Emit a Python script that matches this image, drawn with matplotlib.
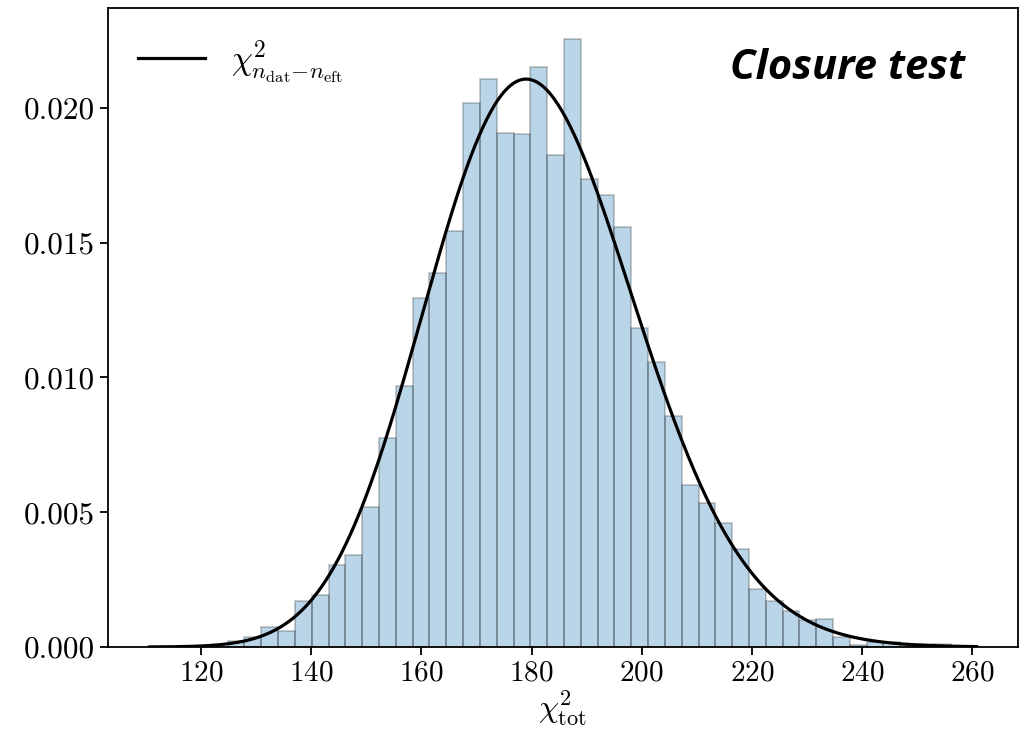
import math
import numpy as np
import matplotlib
matplotlib.use("Agg")
import matplotlib.pyplot as plt

# histogram of chi2_tot over replicas (density)
bin_lo = 124.8
bin_hi = 256.1
density = [0.00022, 0.00039, 0.00074, 0.00058, 0.00171, 0.00194, 0.00306,
           0.00343, 0.00521, 0.00774, 0.00968, 0.01295, 0.01386, 0.01542,
           0.02019, 0.02107, 0.01907, 0.01901, 0.02151, 0.01825, 0.02257,
           0.01736, 0.01677, 0.01557, 0.01185, 0.01059, 0.00857, 0.00602,
           0.00536, 0.00460, 0.00364, 0.00215, 0.00172, 0.00134, 0.00099,
           0.00104, 0.00036, 0.00007, 0.00020, 0.00020, 0.00013, 0.00013,
           0.00013]

# chi2 with n_dat - n_eft degrees of freedom
dof = 181
curve_lo = 110.6
curve_hi = 260.8

plt.rcParams['font.family'] = 'serif'
plt.rcParams['font.serif'] = ['cmr10', 'DejaVu Serif']
plt.rcParams['mathtext.fontset'] = 'cm'
plt.rcParams['axes.formatter.use_mathtext'] = True

fig = plt.figure(figsize=(10.31, 7.35), dpi=100)
ax = fig.add_axes([0.1048, 0.1197, 0.8826, 0.8693])

edges = np.linspace(bin_lo, bin_hi, len(density) + 1)
ax.bar(edges[:-1], density, width=np.diff(edges), align='edge',
       facecolor=(0.122, 0.467, 0.706, 0.3), edgecolor=(0, 0, 0, 0.22),
       linewidth=1.3)

x = np.linspace(curve_lo, curve_hi, 400)
k = dof / 2.0
logpdf = (k - 1) * np.log(x) - x / 2 - k * math.log(2) - math.lgamma(k)
ax.plot(x, np.exp(logpdf), color='black', lw=2.3,
        label=r'$\chi^2_{n_{\rm dat}{-}n_{\rm eft}}$')

ax.set_ylim(bottom=0)
ax.set_xticks([120, 140, 160, 180, 200, 220, 240, 260])
ax.set_yticks([0.0, 0.005, 0.010, 0.015, 0.020])
ax.yaxis.set_major_formatter(matplotlib.ticker.FormatStrFormatter('%.3f'))
ax.tick_params(labelsize=21, width=1.3, length=6)
ax.tick_params(axis='y', labelsize=22.5)
for s in ax.spines.values():
    s.set_linewidth(1.3)

ax.set_xlabel(r'$\chi^2_{\rm tot}$', fontsize=23, labelpad=1)
ax.legend(loc='upper left', frameon=False, fontsize=24, handlelength=2.0,
          borderaxespad=0.5)

ax.text(0.942, 0.905, 'Closure test', transform=ax.transAxes,
        ha='right', va='center', fontsize=30, fontweight='bold',
        fontstyle='italic', family=['Open Sans', 'DejaVu Sans'])

fig.savefig('out.png', dpi=100)
